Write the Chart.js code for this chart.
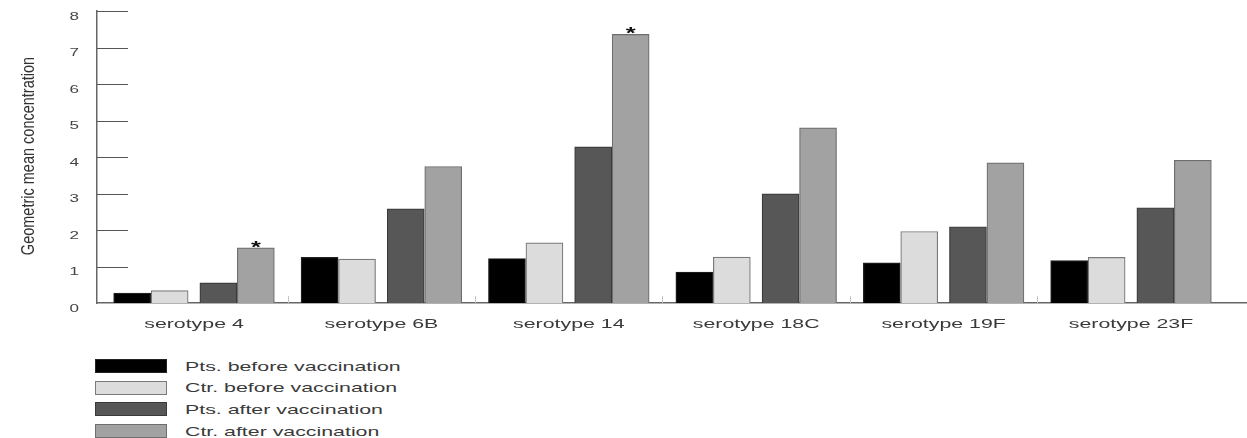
<!DOCTYPE html>
<html>
<head>
<meta charset="utf-8">
<script src="https://cdn.jsdelivr.net/npm/chart.js@4/dist/chart.umd.min.js"></script>
<style>
  html, body { margin: 0; padding: 0; background: #fff; }
  #wrap { position: relative; width: 1247px; height: 438px; font-family: 'Liberation Sans', Arial, sans-serif; }
  #c { position: absolute; left: 0; top: 0; }
  #legend { position: absolute; left: 95px; top: 359px; }
  .row { display: flex; align-items: center; height: 14px; margin-bottom: 7.7px; }
  .sw { width: 70px; height: 12px; border: 1px solid #777; margin-right: 18px; box-sizing: content-box; flex: none; }
  .lab { display: inline-block; font-size: 13px; color: #3a3a3a; white-space: nowrap; transform: scaleX(1.64); transform-origin: left center; }
</style>
</head>
<body>
<div id="wrap">
  <canvas id="c" width="1247" height="340"></canvas>
  <div id="legend"></div>
</div>
<script>
// Geometric mean antibody concentrations per pneumococcal serotype
const categories = ['serotype 4', 'serotype 6B', 'serotype 14', 'serotype 18C', 'serotype 19F', 'serotype 23F'];
const seriesNames = ['Pts. before vaccination', 'Ctr. before vaccination', 'Pts. after vaccination', 'Ctr. after vaccination'];
const ptsBefore = [0.27, 1.25, 1.22, 0.85, 1.10, 1.16];
const ctrBefore = [0.34, 1.20, 1.65, 1.26, 1.96, 1.25];
const ptsAfter  = [0.55, 2.58, 4.28, 2.99, 2.09, 2.61];
const ctrAfter  = [1.51, 3.74, 7.36, 4.80, 3.84, 3.91];
const significant = [true, false, true, false, false, false]; // marked with * on the control post-vaccination bar
const yTicks = [0, 1, 2, 3, 4, 5, 6, 7, 8];
const yTitle = 'Geometric mean concentration';

const seriesValues = [ptsBefore, ctrBefore, ptsAfter, ctrAfter];
const fills   = ['#000000', '#dcdcdc', '#575757', '#a2a2a2'];
const borders = ['#222222', '#7a7a7a', '#3a3a3a', '#6e6e6e'];
// bar centres relative to the group centre (in category units): two touching pairs with a gap
const slot = [-0.33, -0.13, 0.13, 0.33];
// the lettering of this figure is set wide
const STRETCH = 1.64;
const FONT = '"Liberation Sans", Arial, sans-serif';

const datasets = seriesValues.map((vals, k) => ({
  label: seriesNames[k],
  data: vals.map((v, i) => ({ x: i + slot[k], y: v })),
  backgroundColor: fills[k],
  borderColor: borders[k],
  borderWidth: 1.2,
  borderSkipped: 'bottom',
  barThickness: 37,
  grouped: false
}));

function wideText(ctx, text, x, y, sx, sy, rot) {
  ctx.save();
  ctx.translate(x, y);
  if (rot) ctx.rotate(rot);
  ctx.scale(sx, sy);
  ctx.fillText(text, 0, 0);
  ctx.restore();
}

// inward tick marks, group separators, wide axis lettering and significance stars
const decorations = {
  id: 'decorations',
  afterDraw(chart) {
    const { ctx, scales: { x, y }, chartArea } = chart;
    ctx.save();
    ctx.strokeStyle = '#555';
    ctx.lineWidth = 1;
    y.ticks.forEach(t => {
      if (t.value === 0) return;
      const py = Math.round(y.getPixelForValue(t.value)) + 0.5;
      ctx.beginPath();
      ctx.moveTo(chartArea.left, py);
      ctx.lineTo(chartArea.left + 31, py);
      ctx.stroke();
    });
    ctx.strokeStyle = '#c4c4c4';
    for (let i = 0; i < categories.length - 1; i++) {
      const px = Math.round(x.getPixelForValue(i + 0.5)) + 0.5;
      ctx.beginPath();
      ctx.moveTo(px, chartArea.bottom);
      ctx.lineTo(px, chartArea.bottom - 7);
      ctx.stroke();
    }

    // category labels
    ctx.fillStyle = '#3a3a3a';
    ctx.font = '13px ' + FONT;
    ctx.textAlign = 'center';
    ctx.textBaseline = 'middle';
    categories.forEach((c, i) => {
      wideText(ctx, c, x.getPixelForValue(i), chartArea.bottom + 21, STRETCH, 1, 0);
    });

    // value labels, set slightly below their tick
    ctx.fillStyle = '#444';
    ctx.font = '11px ' + FONT;
    ctx.textAlign = 'right';
    y.ticks.forEach(t => {
      wideText(ctx, String(t.value), chartArea.left - 18, y.getPixelForValue(t.value) + 5.5, 1.55, 1, 0);
    });

    // axis title
    ctx.fillStyle = '#333';
    ctx.font = '14.5px ' + FONT;
    ctx.textAlign = 'center';
    wideText(ctx, yTitle, 29, (chartArea.top + chartArea.bottom) / 2 - 1, 1, 1.3, -Math.PI / 2);

    // significance stars
    const meta = chart.getDatasetMeta(3);
    ctx.fillStyle = '#111';
    ctx.font = 'bold 17px ' + FONT;
    ctx.textBaseline = 'alphabetic';
    significant.forEach((s, i) => {
      if (!s) return;
      const bar = meta.data[i];
      wideText(ctx, '*', bar.x, bar.y + 5, 1.5, 1, 0);
    });
    ctx.restore();
  }
};

new Chart(document.getElementById('c'), {
  type: 'bar',
  data: { datasets },
  options: {
    responsive: false,
    animation: false,
    layout: { padding: { left: 0, top: 11, right: 0, bottom: 0 } },
    plugins: { legend: { display: false }, tooltip: { enabled: false } },
    scales: {
      x: {
        type: 'linear',
        offset: false,
        min: -0.5176,
        max: 5.619,
        afterBuildTicks: s => { s.ticks = categories.map((_, i) => ({ value: i })); },
        afterFit: s => { s.height = 37; s.paddingLeft = 0; s.paddingRight = 0; },
        ticks: { display: false },
        grid: { display: false, drawTicks: false },
        border: { display: true, color: '#666', width: 1.5 }
      },
      y: {
        min: 0,
        max: 8,
        afterBuildTicks: s => { s.ticks = yTicks.map(v => ({ value: v })); },
        afterFit: s => { s.width = 97; s.paddingTop = 0; s.paddingBottom = 0; },
        ticks: { display: false },
        grid: { display: false, drawTicks: false },
        border: { display: true, color: '#666', width: 1.5 }
      }
    }
  },
  plugins: [decorations]
});

// legend list below the plot
const legend = document.getElementById('legend');
seriesNames.forEach((name, k) => {
  const row = document.createElement('div');
  row.className = 'row';
  const sw = document.createElement('div');
  sw.className = 'sw';
  sw.style.background = fills[k];
  sw.style.borderColor = borders[k];
  const lab = document.createElement('span');
  lab.className = 'lab';
  lab.textContent = name;
  row.appendChild(sw);
  row.appendChild(lab);
  legend.appendChild(row);
});
</script>
</body>
</html>
